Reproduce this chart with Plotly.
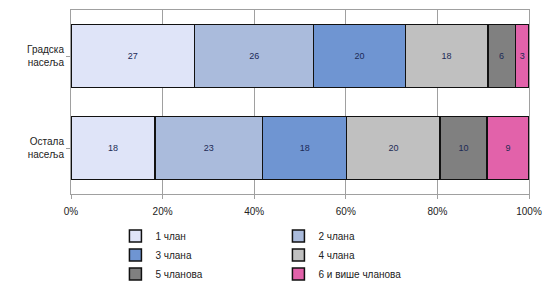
import plotly.graph_objects as go

categories = ["Остала<br>насеља", "Градска<br>насеља"]
series_names = ["1 члан", "2 члана", "3 члана", "4 члана", "5 чланова", "6 и више чланова"]
values = {
    "1 члан": [18, 27],
    "2 члана": [23, 26],
    "3 члана": [18, 20],
    "4 члана": [20, 18],
    "5 чланова": [10, 6],
    "6 и више чланова": [9, 3],
}
colors = ["#dfe4f8", "#aabbdc", "#6f95d2", "#c0c0c0", "#808080", "#e262aa"]
tick_vals = [0, 20, 40, 60, 80, 100]
tick_text = ["0%", "20%", "40%", "60%", "80%", "100%"]

fig = go.Figure()
for name, col in zip(series_names, colors):
    v = values[name]
    fig.add_trace(go.Bar(
        y=categories, x=v, name=name, orientation="h",
        marker=dict(color=col, line=dict(color="#111111", width=1.5)),
        text=[str(t) for t in v], textposition="inside", insidetextanchor="middle",
        textfont=dict(color="#1c2a56", size=9, family="Liberation Sans"),
        constraintext="none",
    ))

fig.update_layout(
    barmode="stack", barnorm="percent", bargap=0.31,
    width=544, height=282,
    margin=dict(l=71, r=15, t=10, b=88, autoexpand=False),
    paper_bgcolor="white", plot_bgcolor="white",
    font=dict(family="Liberation Sans", size=10, color="#222222"),
    legend=dict(orientation="h", x=0.097, xanchor="left", y=-0.15, yanchor="top",
                entrywidth=118, traceorder="normal", itemwidth=30,
                font=dict(size=10), tracegroupgap=0),
    xaxis=dict(range=[0, 100], tickvals=tick_vals, ticktext=tick_text,
               showgrid=True, gridcolor="#a0a0a0", gridwidth=1,
               showline=True, linecolor="#a0a0a0", linewidth=1, mirror=True,
               ticks="outside", ticklen=4, tickcolor="#a0a0a0", zeroline=False,
               tickfont=dict(size=10), automargin=False, ticklabelstandoff=4),
    yaxis=dict(showline=True, linecolor="#a0a0a0", linewidth=1, mirror=True,
               ticks="outside", ticklen=4, tickcolor="#a0a0a0",
               range=[-0.5, 1.5], tickfont=dict(size=10), automargin=False),
    showlegend=True,
)
fig.write_html("out.html", config={"displayModeBar": False},
               post_script="document.body.style.margin='0';")
